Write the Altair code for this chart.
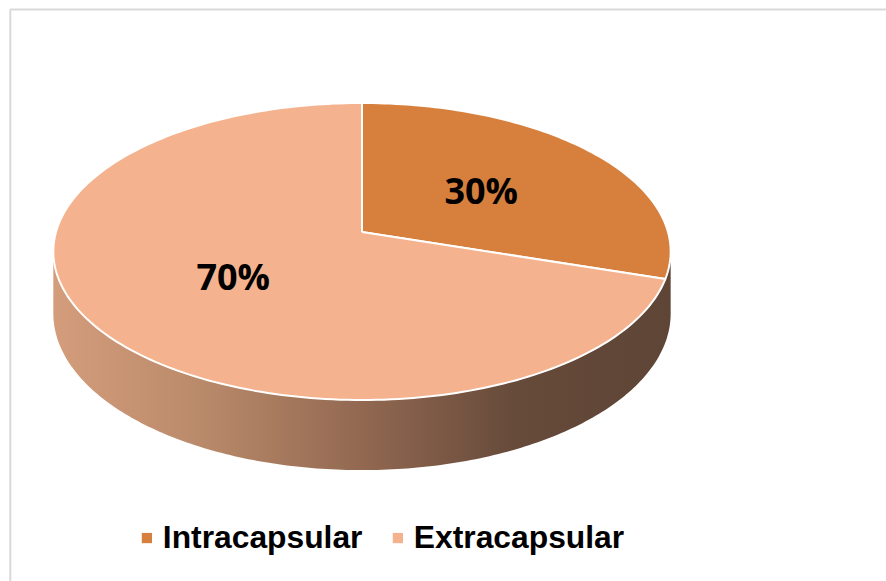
import math
import altair as alt
import pandas as pd

# Data
categories = ["Intracapsular", "Extracapsular"]
shares = [30, 70]
palette = ["#D7803D", "#F4B38E"]

# Canvas and disc geometry (pixels / radius units)
W, H = 886, 581
CX, CY = 362, 232      # pie centre on the canvas
R = 306                # radius in pixels
TILT = 0.477           # vertical squash of the top face
PERSP = 0.1313         # perspective: the near edge appears larger
DEPTH = 0.199          # thickness of the disc in radius units
LABEL_R = 0.5          # radial position of the percentage labels


def project(u, w):
    """Map a point of the unit disc (u right, w away) to the tilted view."""
    s = 1.0 + PERSP * w
    return u / s, TILT * w / s


# Top face: one closed polygon per slice, clockwise from 12 o'clock
total = sum(shares)
slice_rows, label_rows = [], []
start = 0.0
for cat, share in zip(categories, shares):
    sweep = 2 * math.pi * share / total
    n = max(12, share * 3)
    pts = [(0.0, 0.0)]
    for i in range(n + 1):
        a = start + sweep * i / n
        pts.append(project(math.sin(a), math.cos(a)))
    pts.append((0.0, 0.0))
    for k, (x, y) in enumerate(pts):
        slice_rows.append({"category": cat, "k": k, "x": x, "y": y})
    mid = start + sweep / 2
    lx, ly = project(LABEL_R * math.sin(mid), LABEL_R * math.cos(mid))
    label_rows.append({"category": cat, "x": lx, "y": ly, "text": f"{share}%"})
    start += sweep
slices = pd.DataFrame(slice_rows)
labels = pd.DataFrame(label_rows)

# Visible side wall, between the two silhouette points of the front half
phi0 = math.pi + math.asin(PERSP)
phi1 = 2 * math.pi - math.asin(PERSP)
side_rows = []
m = 200
for i in range(m + 1):
    phi = phi0 + (phi1 - phi0) * i / m
    u, w = math.cos(phi), math.sin(phi)
    x, y = project(u, w)
    side_rows.append({"x": x, "y_top": y, "y_bot": y - DEPTH / (1.0 + PERSP * w)})
side = pd.DataFrame(side_rows)

xs = alt.Scale(domain=[(0 - CX) / R, (W - CX) / R], nice=False, zero=False)
ys = alt.Scale(domain=[(CY - H) / R, CY / R], nice=False, zero=False)

side_layer = alt.Chart(side).mark_area(
    color=alt.Gradient(
        gradient="linear",
        x1=0, x2=1, y1=0, y2=0,
        stops=[
            alt.GradientStop(offset=0.0, color="#D49D7C"),
            alt.GradientStop(offset=0.25, color="#B88969"),
            alt.GradientStop(offset=0.5, color="#926851"),
            alt.GradientStop(offset=0.75, color="#664A3A"),
            alt.GradientStop(offset=1.0, color="#5E4536"),
        ],
    )
).encode(
    x=alt.X("x:Q", scale=xs, axis=None),
    y=alt.Y("y_top:Q", scale=ys, axis=None),
    y2="y_bot:Q",
)

slice_layer = alt.Chart(slices).mark_line(
    filled=True, stroke="white", strokeWidth=2, strokeJoin="round"
).encode(
    x=alt.X("x:Q", scale=xs, axis=None),
    y=alt.Y("y:Q", scale=ys, axis=None),
    order="k:Q",
    color=alt.Color(
        "category:N",
        scale=alt.Scale(domain=categories, range=palette),
        legend=alt.Legend(
            title=None,
            orient="none",
            legendX=131,
            legendY=522,
            direction="horizontal",
            symbolType="square",
            symbolSize=105,
            symbolStrokeWidth=0,
            labelFont="Liberation Sans",
            labelFontSize=31.8,
            labelFontWeight="bold",
            labelColor="black",
            labelLimit=0,
            labelOffset=0,
            columnPadding=19,
            padding=0,
        ),
    ),
)

label_layer = alt.Chart(labels).mark_text(
    font="Open Sans", fontSize=36, fontWeight="bold", color="black",
    align="center", baseline="middle", dy=2,
).encode(
    x=alt.X("x:Q", scale=xs, axis=None),
    y=alt.Y("y:Q", scale=ys, axis=None),
    text="text:N",
)

# Chart-area frame (top and left edges)
frame_src = pd.DataFrame({"edge": ["top", "left"]})
frame_top = alt.Chart(frame_src).transform_filter("datum.edge == 'top'").mark_rule(
    color="#D9D9D9", strokeWidth=2
).encode(x=alt.value(10), x2=alt.value(W), y=alt.value(9.5))
frame_left = alt.Chart(frame_src).transform_filter("datum.edge == 'left'").mark_rule(
    color="#D9D9D9", strokeWidth=2
).encode(x=alt.value(10.3), y=alt.value(9.5), y2=alt.value(H))

chart = alt.layer(
    frame_top, frame_left, side_layer, slice_layer, label_layer
).properties(
    width=W, height=H, padding=0, autosize="none", background="white"
).configure_view(stroke=None)

chart.save("out.html", embed_options={"renderer": "svg", "actions": False})
